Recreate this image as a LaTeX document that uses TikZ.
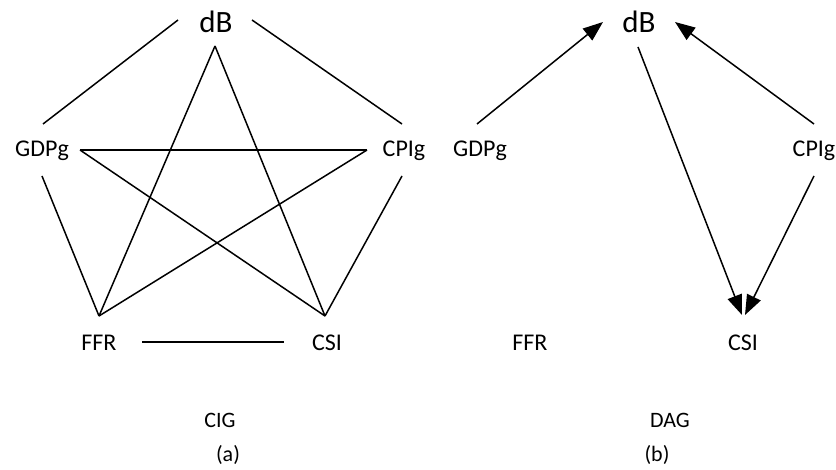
\documentclass[tikz,border=0pt]{standalone}
\usepackage{fontspec}
\setmainfont{Carlito}
\usetikzlibrary{arrows.meta}
\begin{document}
\begin{tikzpicture}[x=1pt,y=-1pt,
  lbl/.style={inner sep=0pt,font=\fontsize{24}{28}\selectfont},
  big/.style={inner sep=0pt,font=\fontsize{31}{36}\selectfont},
  captxt/.style={inner sep=0pt,font=\fontsize{22}{26}\selectfont},
  conn/.style={line width=1.5pt},
  arr/.style={line width=1.5pt,-{Triangle[length=20pt,width=15pt]}}]
\useasboundingbox (0,0) rectangle (836,470);
% ---------- panel (a) ----------
\node[big] (adB) at (216,22) {dB};
\node[lbl] (aGDP) at (42,151) {GDPg};
\node[lbl] (aCPI) at (404,151) {CPIg};
\node[lbl] (aFFR) at (99,343) {FFR};
\node[lbl] (aCSI) at (327,343) {CSI};
\node[captxt] (aCIG) at (220,420) {CIG};
\node[captxt] (aa) at (228,455) {(a)};
\coordinate (adBl) at (178,20);
\coordinate (adBr) at (252,20);
\coordinate (adBs) at (215,46);
\coordinate (aGDPn) at (43,124);
\coordinate (aGDPe) at (80,150);
\coordinate (aGDPs) at (42,176);
\coordinate (aCPIn) at (402,124);
\coordinate (aCPIw) at (367,150);
\coordinate (aCPIs) at (402,176);
\coordinate (aFFRn) at (99,316);
\coordinate (aFFRe) at (142,342);
\coordinate (aCSIn) at (325,316);
\coordinate (aCSIw) at (284,342);
\draw[conn] (adBl) -- (aGDPn);
\draw[conn] (adBr) -- (aCPIn);
\draw[conn] (aGDPe) -- (aCPIw);
\draw[conn] (aGDPe) -- (aCSIn);
\draw[conn] (aCPIw) -- (aFFRn);
\draw[conn] (adBs) -- (aFFRn);
\draw[conn] (adBs) -- (aCSIn);
\draw[conn] (aGDPs) -- (aFFRn);
\draw[conn] (aCPIs) -- (aCSIn);
\draw[conn] (aFFRe) -- (aCSIw);
% ---------- panel (b) ----------
\node[big] (bdB) at (639,22) {dB};
\node[lbl] (bGDP) at (480,151) {GDPg};
\node[lbl] (bCPI) at (814,151) {CPIg};
\node[lbl] (bFFR) at (530,343) {FFR};
\node[lbl] (bCSI) at (743,343) {CSI};
\node[captxt] (bDAG) at (670,420) {DAG};
\node[captxt] (bb) at (657,455) {(b)};
\coordinate (bdBl) at (603,22);
\coordinate (bdBr) at (675,22);
\coordinate (bdBs) at (638,47);
\coordinate (bGDPn) at (477,124);
\coordinate (bCPIn) at (814,124);
\coordinate (bCPIs) at (814,176);
\coordinate (bCSIa) at (742,315);
\coordinate (bCSIb) at (745,315);
\draw[arr] (bGDPn) -- (bdBl);
\draw[arr] (bCPIn) -- (bdBr);
\draw[arr] (bdBs) -- (bCSIa);
\draw[arr] (bCPIs) -- (bCSIb);
\end{tikzpicture}
\end{document}
